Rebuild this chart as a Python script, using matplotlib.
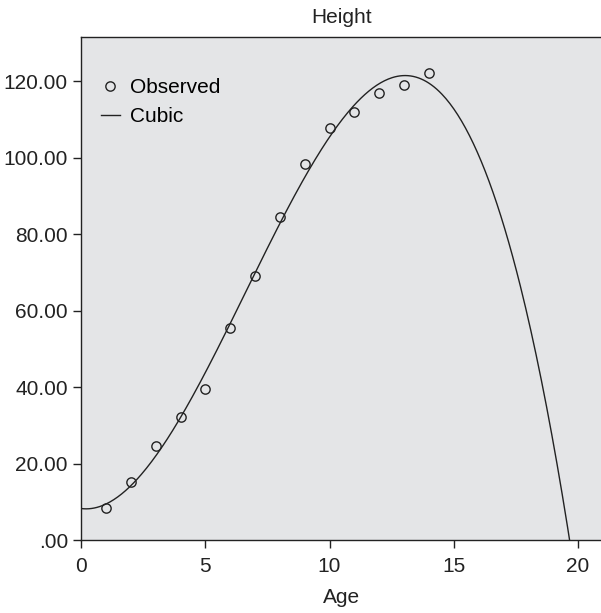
import numpy as np
import matplotlib
matplotlib.use("Agg")
import matplotlib.pyplot as plt
from matplotlib.ticker import FuncFormatter

plt.rcParams['font.family'] = ['Liberation Sans', 'DejaVu Sans']

age = [1, 2, 3, 4, 5, 6, 7, 8, 9, 10, 11, 12, 13, 14]
height = [8.3, 15.3, 24.7, 32.1, 39.5, 55.4, 69.1, 84.4, 98.3, 107.7, 112.0, 117.0, 119.0, 122.0]
x_ticks = [0, 5, 10, 15, 20]
y_ticks = [0, 20, 40, 60, 80, 100, 120]

coef = np.polyfit(age, height, 3)
xs = np.linspace(0, 21, 400)
ys = np.polyval(coef, xs)

ink = "#222222"
fig = plt.figure(figsize=(6.01, 6.13), dpi=100)
ax = fig.add_axes([0.135, 0.119, 0.868, 0.8205])
ax.set_facecolor("#E4E5E7")

ax.plot(age, height, linestyle="none", marker="o", markersize=6.7, markerfacecolor="none",
        markeredgecolor=ink, markeredgewidth=1.0, label="Observed", zorder=3)
ax.plot(xs, ys, color=ink, lw=1.0, label="Cubic")

ax.set_xlim(0, 21)
ax.set_ylim(0, 131.5)
ax.set_xticks(x_ticks)
ax.set_yticks(y_ticks)

def yfmt(v, p):
    s = f"{v:.2f}"
    return s[1:] if s.startswith("0.") else s
ax.yaxis.set_major_formatter(FuncFormatter(yfmt))
ax.tick_params(direction="out", length=5.5, width=1, labelsize=15, colors=ink)
ax.tick_params(axis="x", pad=7)
ax.tick_params(axis="y", pad=4)
for sp in ax.spines.values():
    sp.set_color(ink)
    sp.set_linewidth(1.0)

ax.set_title("Height", fontsize=15, pad=10, color=ink)
ax.set_xlabel("Age", fontsize=15, labelpad=8.5, color=ink)

ax.legend(loc="upper left", frameon=False, fontsize=15, handlelength=0.9, handletextpad=0.5,
          bbox_to_anchor=(0.038, 0.919), borderaxespad=0, borderpad=0, labelspacing=0.5)

fig.savefig("out.png", dpi=100)
